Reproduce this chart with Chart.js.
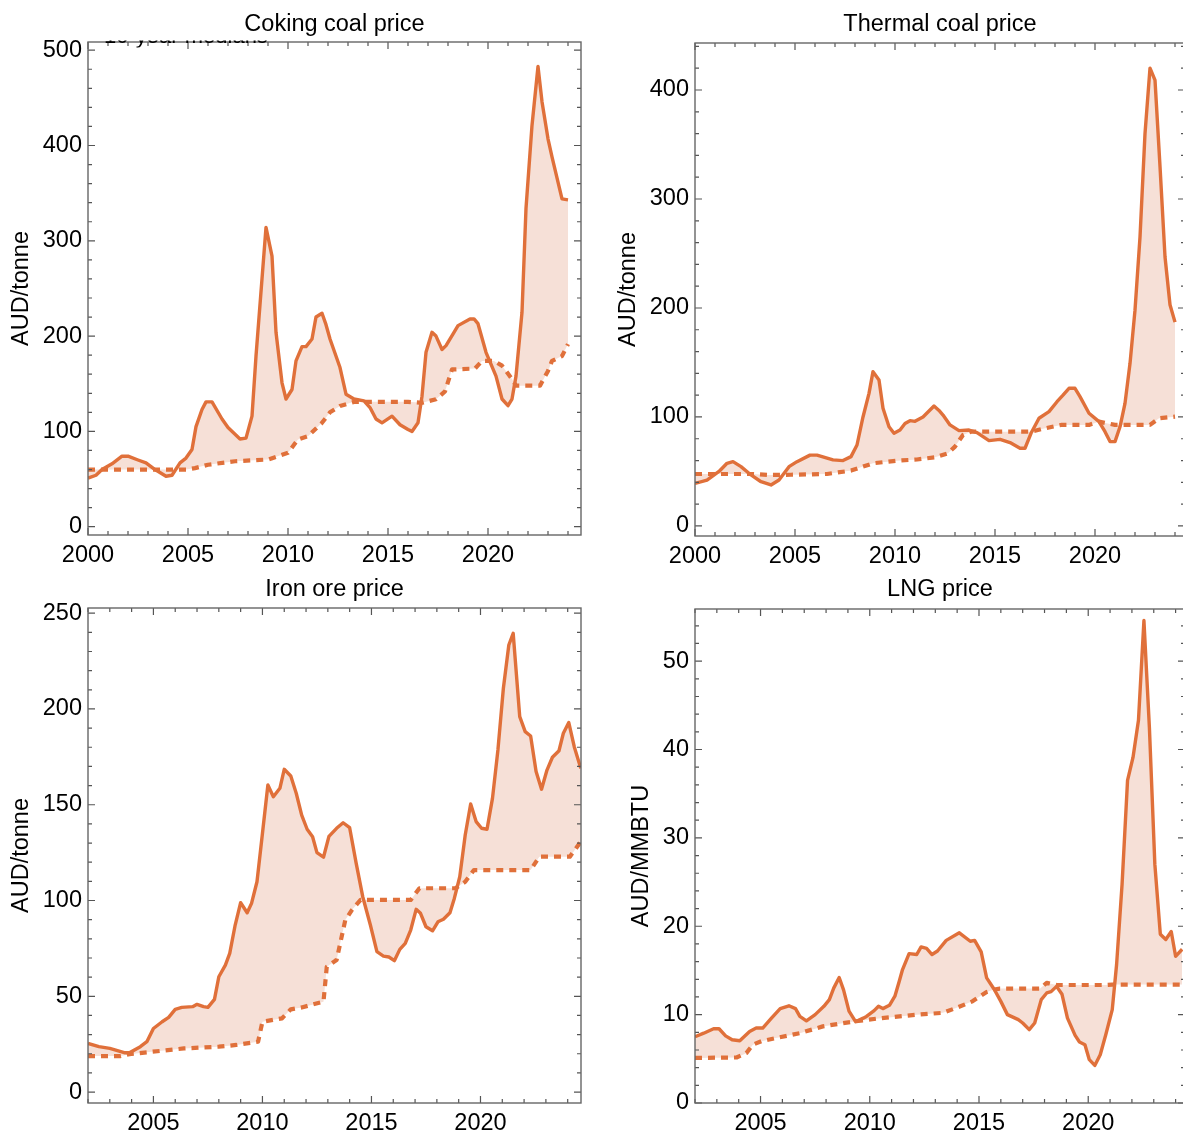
<!DOCTYPE html>
<html>
<head>
<meta charset="utf-8">
<script src="https://cdn.jsdelivr.net/npm/chart.js@4.4.1/dist/chart.umd.min.js"></script>
<style>
  html, body { margin: 0; padding: 0; background: #fff; overflow: hidden; }
  body { width: 1183px; height: 1133px; position: relative; }
  .panel { position: absolute; }
</style>
</head>
<body>
<div class="panel" style="left:0;top:0;width:592px;height:565px"><canvas id="coking"></canvas></div>
<div class="panel" style="left:600px;top:0;width:600px;height:566px"><canvas id="thermal"></canvas></div>
<div class="panel" style="left:0;top:565px;width:592px;height:568px"><canvas id="iron"></canvas></div>
<div class="panel" style="left:600px;top:565px;width:600px;height:568px"><canvas id="lng"></canvas></div>
<script>
// ---- Coking coal (AUD/tonne) ----
const cokingPriceYears = [2000.0,2000.4,2000.7,2001.2,2001.7,2002.0,2002.5,2002.9,2003.35,2003.9,2004.2,2004.6,2004.9,2005.2,2005.4,2005.7,2005.9,2006.2,2006.7,2007.0,2007.6,2007.9,2008.2,2008.4,2008.7,2008.9,2009.2,2009.4,2009.7,2009.9,2010.2,2010.4,2010.7,2010.9,2011.2,2011.4,2011.7,2011.9,2012.1,2012.6,2012.9,2013.3,2013.8,2014.1,2014.4,2014.7,2015.2,2015.6,2016.0,2016.2,2016.5,2016.7,2016.9,2017.2,2017.4,2017.7,2017.9,2018.3,2018.5,2019.1,2019.3,2019.5,2019.9,2020.4,2020.7,2021.0,2021.2,2021.4,2021.7,2021.9,2022.2,2022.5,2022.7,2023.0,2023.2,2023.7,2024.0];
const cokingPrice = [51,54,60,66,74,74,70,67,60,53,54,67,72,81,105,123,131,131,113,104,92,93,116,179,260,314,284,204,151,134,144,174,189,189,197,220,224,212,197,167,139,134,132,125,113,109,116,107,102,100,109,137,183,204,200,186,190,204,211,218,218,213,183,158,134,127,134,158,225,334,421,483,446,407,388,344,343];
const cokingMedianYears = [2000.0,2004.9,2005.35,2006.0,2007.35,2009.0,2010.0,2010.5,2011.0,2011.7,2012.1,2012.6,2013.3,2016.0,2016.7,2017.4,2017.85,2018.2,2019.35,2019.7,2020.3,2020.7,2021.2,2021.4,2022.6,2023.0,2023.2,2023.7,2024.0];
const cokingMedian = [60,60,61.5,65,68.7,70.5,77.5,91.6,95,109,120,126.7,131,131,130,133.7,142,165,166,174,174,169,155,148,148,163.5,174,179,191.6];

// ---- Thermal coal (AUD/tonne) ----
const thermalPriceYears = [2000.0,2000.6,2001.2,2001.6,2001.9,2002.3,2002.8,2003.3,2003.8,2004.2,2004.7,2005.1,2005.75,2006.1,2006.9,2007.4,2007.8,2008.1,2008.4,2008.7,2008.9,2009.2,2009.4,2009.7,2009.95,2010.25,2010.5,2010.75,2011.0,2011.4,2011.95,2012.2,2012.4,2012.75,2013.2,2013.7,2014.1,2014.7,2015.25,2015.75,2016.25,2016.5,2016.8,2017.2,2017.7,2018.1,2018.4,2018.7,2019.0,2019.25,2019.7,2020.2,2020.5,2020.75,2021.0,2021.25,2021.5,2021.75,2022.0,2022.25,2022.5,2022.75,2023.0,2023.25,2023.5,2023.75,2024.0];
const thermalPrice = [39,42,50,57.5,59,54.4,46.8,40.6,37.6,42.2,54.4,59,65,65,60.6,60,63.6,74.3,100,121.7,141.6,134,108,91,85,88,94,96.6,96,100,110,106,101.8,92.7,87.5,88,85.6,78.3,79.5,76.5,71.3,71.3,85,98.8,104.9,114,120,126.3,126.3,118.7,103.4,95.7,86.5,77.4,77.4,91,112.5,149,198,265,360,420,409,330,247,203,187];
const thermalMedianYears = [2000.0,2002.9,2003.6,2004.8,2006.6,2007.8,2008.9,2010.1,2011.1,2012.0,2012.65,2013.0,2013.4,2013.8,2016.8,2017.5,2018.3,2019.7,2020.2,2021.0,2022.75,2023.2,2024.0];
const thermalMedian = [47.7,47.7,46.8,47,47.7,50.8,57.5,59.9,61,63,66.7,72.8,83.5,86.5,86.5,89.6,92.7,92.7,95.7,92.7,92.7,98.8,100.3];

// ---- Iron ore (AUD/tonne) ----
const ironPriceYears = [2002.0,2002.5,2003.0,2003.7,2003.9,2004.4,2004.7,2005.0,2005.4,2005.7,2006.0,2006.3,2006.8,2007.0,2007.3,2007.5,2007.8,2008.0,2008.3,2008.5,2008.75,2009.0,2009.3,2009.5,2009.75,2010.0,2010.25,2010.5,2010.8,2011.0,2011.3,2011.55,2011.8,2012.05,2012.3,2012.5,2012.8,2013.05,2013.4,2013.7,2014.0,2014.3,2014.6,2014.95,2015.25,2015.55,2015.8,2016.05,2016.3,2016.55,2016.8,2017.05,2017.25,2017.5,2017.8,2018.05,2018.3,2018.6,2018.8,2019.05,2019.3,2019.55,2019.8,2020.05,2020.3,2020.55,2020.8,2021.05,2021.3,2021.5,2021.8,2022.05,2022.3,2022.55,2022.8,2023.05,2023.3,2023.6,2023.8,2024.05,2024.3,2024.6];
const ironPrice = [25.4,23.7,22.8,20.5,20.5,23.7,26.3,33.2,36.7,39,43.2,44.2,44.6,45.8,44.6,44.2,48.4,60.2,66.3,72.4,87.2,98.9,93.6,98.5,109.8,135,160.3,154.2,158.6,168.5,165,156,144.6,137.2,133.3,125,122.6,133.5,137.7,140.6,138,119.4,102,87.2,73.3,71,70.5,68.6,74.5,77.6,84.6,95.4,93.3,86.3,84.2,88.9,90.2,93.6,101.1,112.4,134.2,150.4,141.2,137.7,137.2,153.3,178.6,210.8,233.4,239.5,196,188.2,185.9,167.3,158.1,168.1,174.8,178.2,187.3,192.9,180.3,169];
const ironMedianYears = [2002.0,2003.5,2003.9,2004.9,2006.4,2008.0,2008.8,2009.8,2010.0,2010.9,2011.3,2011.8,2012.8,2012.95,2013.4,2013.8,2014.1,2014.5,2016.8,2017.2,2018.85,2019.3,2019.7,2022.3,2022.7,2024.1,2024.6];
const ironMedian = [18.8,18.8,19.8,21,22.8,23.7,24.6,26.3,36.7,38.5,43.2,44.2,47.2,65.4,68.9,89.8,95,100.3,100.3,106.4,106.4,109.8,115.9,115.9,122.9,122.9,130.7];

// ---- LNG (AUD/MMBTU) ----
const lngPriceYears = [2002.0,2002.4,2002.85,2003.1,2003.4,2003.7,2004.05,2004.5,2004.8,2005.1,2005.5,2005.9,2006.3,2006.6,2006.8,2007.1,2007.5,2007.9,2008.15,2008.35,2008.6,2008.8,2009.05,2009.35,2009.7,2009.85,2010.2,2010.4,2010.6,2010.9,2011.15,2011.35,2011.5,2011.8,2012.15,2012.35,2012.6,2012.85,2013.1,2013.5,2014.1,2014.6,2014.8,2015.1,2015.35,2015.7,2016.0,2016.3,2016.8,2017.0,2017.3,2017.55,2017.85,2018.1,2018.3,2018.55,2018.8,2019.05,2019.4,2019.6,2019.85,2020.05,2020.3,2020.55,2020.8,2021.1,2021.3,2021.55,2021.8,2022.05,2022.3,2022.55,2022.8,2023.05,2023.3,2023.55,2023.8,2024.0,2024.3];
const lngPrice = [7.5,7.9,8.4,8.4,7.6,7.16,7.05,8.1,8.48,8.48,9.6,10.68,11.0,10.68,9.8,9.3,10.0,10.94,11.7,13.0,14.2,12.8,10.4,9.2,9.6,9.8,10.45,10.94,10.68,11.05,12.08,13.78,15.1,16.9,16.8,17.67,17.5,16.8,17.2,18.4,19.26,18.3,18.4,17.1,14.16,12.84,11.5,10.0,9.43,9.05,8.3,9.05,11.7,12.45,12.6,13.2,12.3,9.6,7.65,6.9,6.6,4.9,4.25,5.46,7.7,10.57,15.7,24.76,36.5,39.1,43.3,54.6,42.5,27.0,19.1,18.5,19.4,16.6,17.4];
const lngMedianYears = [2002.0,2003.9,2004.35,2004.65,2005.05,2005.7,2006.8,2007.85,2009.1,2010.3,2012.15,2013.35,2013.95,2014.7,2015.35,2015.7,2015.95,2017.8,2018.1,2018.55,2020.8,2021.1,2024.45];
const lngMedian = [5.1,5.15,5.64,6.6,7.0,7.35,7.9,8.67,9.16,9.54,10.0,10.2,10.75,11.5,12.57,12.84,12.95,12.95,13.6,13.35,13.35,13.4,13.4];

const FONT = '"Liberation Sans", Arial, Helvetica, sans-serif';
const FS = 23.5;
const LINE = 'rgb(224,112,58)';
const FILL = 'rgb(246,224,215)';
const INK = '#000';

const pts = (xs, ys) => xs.map((x, i) => ({ x, y: ys[i] }));

// Boxed frame around the plot area with inward major/minor ticks on every side
const frameTicks = {
  id: 'frameTicks',
  afterDraw(chart, args, o) {
    const { ctx, chartArea: a, scales: { x, y } } = chart;
    ctx.save();
    ctx.strokeStyle = '#555';
    ctx.lineWidth = 1.2;
    ctx.beginPath();
    const major = 7, minor = 4;
    const isMult = (v, m) => Math.abs(v / m - Math.round(v / m)) < 1e-6;
    const x0 = Math.ceil(x.min / o.xMinor - 1e-9);
    for (let k = x0; k * o.xMinor <= x.max + 1e-9; k++) {
      const v = k * o.xMinor;
      const px = x.getPixelForValue(v);
      const len = isMult(v, o.xMajor) ? major : minor;
      ctx.moveTo(px, a.bottom); ctx.lineTo(px, a.bottom - len);
      ctx.moveTo(px, a.top); ctx.lineTo(px, a.top + len);
    }
    const y0 = Math.ceil(y.min / o.yMinor - 1e-9);
    for (let k = y0; k * o.yMinor <= y.max + 1e-9; k++) {
      const v = k * o.yMinor;
      const py = y.getPixelForValue(v);
      const len = isMult(v, o.yMajor) ? major : minor;
      ctx.moveTo(a.left, py); ctx.lineTo(a.left + len, py);
      ctx.moveTo(a.right, py); ctx.lineTo(a.right - len, py);
    }
    ctx.stroke();
    ctx.lineWidth = 1.4;
    ctx.strokeStyle = '#666';
    ctx.strokeRect(a.left, a.top, a.right - a.left, a.bottom - a.top);
    ctx.restore();
  }
};

// Legend caption of the first panel, mostly hidden under the title band
const clippedNote = {
  id: 'clippedNote',
  afterDraw(chart, args, o) {
    if (!o || !o.text) return;
    const { ctx } = chart;
    ctx.save();
    ctx.beginPath();
    ctx.rect(0, o.clipTop, chart.width, o.clipHeight);
    ctx.clip();
    ctx.fillStyle = INK;
    ctx.font = '22px ' + FONT;
    ctx.textBaseline = 'alphabetic';
    ctx.fillText(o.text, o.x, o.y);
    ctx.restore();
  }
};

function panel(id, cfg) {
  new Chart(document.getElementById(id), {
    type: 'line',
    data: {
      datasets: [
        {
          label: 'Price',
          data: pts(cfg.priceYears, cfg.price),
          borderColor: LINE,
          borderWidth: 3.4,
          borderJoinStyle: 'round',
          pointRadius: 0,
          tension: 0,
          fill: { target: 1, above: FILL, below: FILL }
        },
        {
          label: '10-year median',
          data: pts(cfg.medianYears, cfg.median),
          borderColor: LINE,
          borderWidth: 4.2,
          borderDash: [7, 6],
          borderCapStyle: 'butt',
          borderJoinStyle: 'round',
          pointRadius: 0,
          tension: 0,
          fill: false
        }
      ]
    },
    options: {
      responsive: false,
      maintainAspectRatio: false,
      animation: false,
      events: [],
      layout: { padding: { left: 0, top: 0, bottom: 0, right: cfg.padRight } },
      plugins: {
        legend: { display: false },
        tooltip: { enabled: false },
        filler: { drawTime: 'beforeDatasetsDraw', propagate: false },
        title: {
          display: true,
          fullSize: false,
          text: cfg.title,
          color: INK,
          font: { family: FONT, size: FS, weight: 'normal', lineHeight: 1.2 },
          padding: { top: 10, bottom: cfg.titleBottom }
        },
        frameTicks: { xMinor: 1, xMajor: 5, yMinor: cfg.yMinor, yMajor: cfg.yStep },
        clippedNote: cfg.note || {}
      },
      scales: {
        x: {
          type: 'linear',
          min: cfg.xMin, max: cfg.xMax,
          grid: { display: false, drawTicks: false },
          border: { display: false },
          afterFit: s => { s.height = 30; },
          ticks: {
            stepSize: 5,
            includeBounds: false,
            autoSkip: false,
            maxRotation: 0,
            padding: 6,
            color: INK,
            font: { family: FONT, size: FS },
            callback: v => String(v)
          }
        },
        y: {
          type: 'linear',
          min: cfg.yMin, max: cfg.yMax,
          grid: { display: false, drawTicks: false },
          border: { display: false },
          afterFit: s => { s.width = cfg.yWidth; },
          title: {
            display: true,
            text: cfg.yTitle,
            color: INK,
            font: { family: FONT, size: FS, lineHeight: 1.2 },
            padding: { top: cfg.yTitlePad, bottom: 0 }
          },
          ticks: {
            stepSize: cfg.yStep,
            includeBounds: false,
            padding: 6,
            color: INK,
            font: { family: FONT, size: FS },
            callback: v => String(v)
          }
        }
      }
    },
    plugins: [frameTicks, clippedNote]
  });
}

function sizeCanvas(id, w, h) {
  const c = document.getElementById(id);
  c.width = w; c.height = h;
  c.style.width = w + 'px'; c.style.height = h + 'px';
}
sizeCanvas('coking', 592, 565);
sizeCanvas('thermal', 600, 566);
sizeCanvas('iron', 592, 568);
sizeCanvas('lng', 600, 568);

panel('coking', {
  title: 'Coking coal price', titleBottom: 3.8,
  priceYears: cokingPriceYears, price: cokingPrice,
  medianYears: cokingMedianYears, median: cokingMedian,
  xMin: 2000, xMax: 2024.65, yMin: -8.7, yMax: 508.6, yStep: 100, yMinor: 20,
  yWidth: 88, padRight: 11, yTitle: 'AUD/tonne', yTitlePad: 7,
  note: { text: '10-year medians', x: 104, y: 43, clipTop: 40.5, clipHeight: 7 }
});
panel('thermal', {
  title: 'Thermal coal price', titleBottom: 4.8,
  priceYears: thermalPriceYears, price: thermalPrice,
  medianYears: thermalMedianYears, median: thermalMedian,
  xMin: 2000, xMax: 2024.5, yMin: -9.2, yMax: 443.1, yStep: 100, yMinor: 20,
  yWidth: 95, padRight: 15, yTitle: 'AUD/tonne', yTitlePad: 14
});
panel('iron', {
  title: 'Iron ore price', titleBottom: 4.8,
  priceYears: ironPriceYears, price: ironPrice,
  medianYears: ironMedianYears, median: ironMedian,
  xMin: 2002, xMax: 2024.61, yMin: -5.7, yMax: 252.7, yStep: 50, yMinor: 10,
  yWidth: 88, padRight: 11, yTitle: 'AUD/tonne', yTitlePad: 7
});
panel('lng', {
  title: 'LNG price', titleBottom: 5.8,
  priceYears: lngPriceYears, price: lngPrice,
  medianYears: lngMedianYears, median: lngMedian,
  xMin: 2002, xMax: 2024.43, yMin: 0, yMax: 55.9, yStep: 10, yMinor: 2,
  yWidth: 95, padRight: 15, yTitle: 'AUD/MMBTU', yTitlePad: 27
});
</script>
</body>
</html>
